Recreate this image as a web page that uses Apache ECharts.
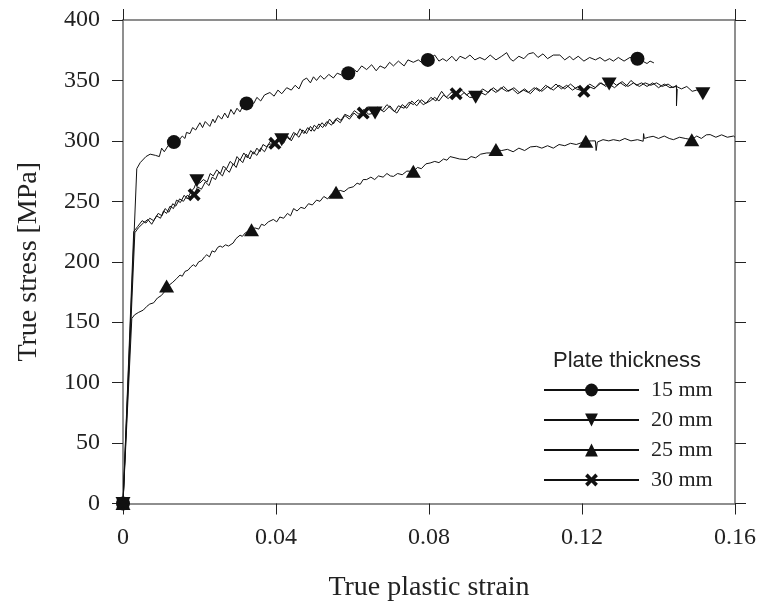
<!DOCTYPE html>
<html>
<head>
<meta charset="utf-8">
<script src="https://cdn.jsdelivr.net/npm/echarts@6/dist/echarts.min.js"></script>
<style>html,body{margin:0;padding:0;background:#fff}#c{width:760px;height:608px}</style>
</head>
<body>
<div id="c"></div>
<script>
// ---- data (true plastic strain, true stress MPa) ----
var seriesNames = ['15 mm', '20 mm', '25 mm', '30 mm'];
var xTicks = [0, 0.04, 0.08, 0.12, 0.16];
var yTicks = [0, 50, 100, 150, 200, 250, 300, 350, 400];

var curve15 = [[0,0],[0.0036,277],[0.0045,282],[0.006,287],[0.0071,289],[0.0085,288],[0.0095,287],[0.0101,294],[0.0108,291],[0.0118,296],[0.0133,299],[0.0145,300],[0.0155,304],[0.0162,302],[0.0166,307],[0.0175,306],[0.0182,311],[0.019,309],[0.0201,315],[0.0208,311],[0.0215,316],[0.0227,312],[0.0235,318],[0.024,315],[0.0249,321],[0.0258,318],[0.0266,323],[0.0274,319],[0.0282,326],[0.029,322],[0.0298,327],[0.0306,324],[0.0315,330],[0.0323,331],[0.0333,333],[0.0342,331],[0.035,336],[0.036,333],[0.037,338],[0.0384,340],[0.0395,337],[0.0405,342],[0.0415,339],[0.0428,344],[0.044,342],[0.045,346],[0.046,343],[0.047,350],[0.048,352],[0.049,348],[0.0498,353],[0.0506,350],[0.0516,354],[0.0526,351],[0.0538,355],[0.055,352],[0.056,356],[0.0575,354],[0.0589,356],[0.06,360],[0.0612,357],[0.0624,362],[0.0637,359],[0.065,363],[0.0662,358],[0.0672,362],[0.0685,360],[0.0697,365],[0.0707,362],[0.072,366],[0.0735,362],[0.0745,367],[0.0759,365],[0.0772,367],[0.0785,364],[0.0797,367],[0.0806,369],[0.0815,371],[0.0826,366],[0.0836,368],[0.0846,366],[0.086,370],[0.0871,366],[0.0881,370],[0.0895,368],[0.0907,371],[0.092,367],[0.0933,369],[0.0946,367],[0.096,371],[0.0975,367],[0.099,370],[0.1003,373],[0.1012,368],[0.102,366],[0.1035,370],[0.1048,368],[0.106,372],[0.1073,373],[0.1085,369],[0.1098,372],[0.111,368],[0.1125,371],[0.1142,371],[0.1155,367],[0.1168,370],[0.1177,367],[0.119,370],[0.1205,366],[0.122,369],[0.1235,367],[0.1247,369],[0.126,366],[0.1272,368],[0.1282,366],[0.1295,369],[0.131,366],[0.1325,369],[0.1345,368],[0.1358,366],[0.137,364],[0.1378,366],[0.1388,364.5]];

var curve20 = [[0,0],[0.0031,224],[0.004,228],[0.0053,232],[0.0065,235],[0.0075,231],[0.0088,238],[0.0098,236],[0.0106,242],[0.0114,240],[0.0123,246],[0.0132,244],[0.014,251],[0.015,249],[0.016,255],[0.0168,252],[0.0178,258],[0.0186,261],[0.0193,267],[0.0201,265],[0.021,268],[0.022,266],[0.0228,273],[0.0236,271],[0.0245,276],[0.0255,273],[0.0262,279],[0.0271,277],[0.028,283],[0.029,280],[0.0298,287],[0.0306,284],[0.0316,290],[0.0325,286],[0.0334,292],[0.0342,289],[0.035,294],[0.0358,291],[0.0366,297],[0.0376,295],[0.0386,300],[0.0395,297],[0.0405,302],[0.0415,301],[0.0425,304],[0.0436,301],[0.0446,307],[0.0455,305],[0.0463,310],[0.0473,306],[0.0483,311],[0.0492,308],[0.05,313],[0.051,310],[0.052,315],[0.053,312],[0.054,318],[0.055,314],[0.056,319],[0.057,317],[0.058,322],[0.0593,320],[0.0605,325],[0.0617,322],[0.063,326],[0.0642,322],[0.0659,323],[0.067,327],[0.0682,324],[0.0698,329],[0.071,324],[0.072,329],[0.0735,327],[0.0748,332],[0.0759,330],[0.0772,334],[0.0785,330],[0.0803,333],[0.0815,336],[0.0826,333],[0.0838,338],[0.085,335],[0.0864,339],[0.0878,336],[0.0892,340],[0.0906,336],[0.0922,336],[0.0935,340],[0.0948,338],[0.0962,343],[0.0975,340],[0.0988,344],[0.1003,341],[0.1018,343],[0.1032,339],[0.1047,342],[0.106,340],[0.1075,344],[0.109,341],[0.1105,346],[0.1118,343],[0.1132,347],[0.1146,343],[0.116,346],[0.1175,342],[0.119,345],[0.1205,342],[0.122,347],[0.1235,344],[0.125,348],[0.1262,345],[0.1271,347],[0.1285,344],[0.13,348],[0.1315,345],[0.1328,350],[0.1342,346],[0.1356,348],[0.137,345],[0.1385,348],[0.14,344],[0.1415,347],[0.143,344],[0.1447,345],[0.146,343],[0.1474,345],[0.1488,341],[0.15,342],[0.151,340]];

var curve25 = [[0,0],[0.0023,153],[0.003,156],[0.004,158],[0.0053,160],[0.0062,163],[0.007,165],[0.008,166],[0.009,170],[0.01,172],[0.0108,175],[0.0114,179.6],[0.0122,181],[0.013,183],[0.014,186],[0.0149,189],[0.0155,188],[0.0162,192],[0.017,193],[0.0178,196],[0.0184,197.5],[0.019,196],[0.0198,200],[0.0206,201],[0.0213,204],[0.0219,205.8],[0.0226,204],[0.0233,209],[0.024,208],[0.0248,212],[0.0254,213],[0.026,212],[0.0268,214],[0.0276,213],[0.0288,215.5],[0.0295,219],[0.0306,222],[0.0312,221],[0.032,224],[0.0336,226.5],[0.0345,228],[0.0355,227],[0.0362,231],[0.037,230],[0.038,233],[0.0393,235],[0.0402,233],[0.041,237],[0.042,236],[0.043,240],[0.0438,238],[0.0446,244],[0.0455,242],[0.0465,245],[0.0475,244],[0.0485,248],[0.0495,247],[0.0506,251],[0.0515,250],[0.0525,254],[0.0535,252],[0.0545,256],[0.0557,257.4],[0.0568,259],[0.0578,258],[0.059,261],[0.0602,262],[0.0612,265],[0.062,264],[0.0628,268],[0.0637,268],[0.0648,270],[0.0658,268],[0.0668,271],[0.068,270],[0.069,273],[0.0699,271],[0.0707,270.6],[0.0718,273],[0.073,272],[0.0742,275],[0.0759,274.8],[0.077,278],[0.078,277],[0.0792,281],[0.0803,281.7],[0.0815,283],[0.0826,282],[0.0838,285],[0.0847,284],[0.0855,287],[0.0868,286],[0.088,285],[0.0899,284.5],[0.091,287],[0.0922,286],[0.0935,289],[0.0951,290],[0.0962,290],[0.0975,292.8],[0.099,292],[0.1005,293],[0.102,291],[0.1035,294],[0.105,292],[0.1065,295],[0.1081,295.5],[0.1095,294],[0.111,296],[0.1125,294],[0.114,297],[0.1155,296],[0.117,298],[0.1185,297],[0.121,299.7],[0.1225,300],[0.1235,300],[0.1237,292],[0.124,299],[0.1255,301],[0.127,300],[0.1282,301],[0.1298,300],[0.1312,302],[0.1328,300],[0.1345,301],[0.136,299.7],[0.1361,306],[0.1363,302],[0.1374,303],[0.1386,303.8],[0.14,302],[0.1415,304],[0.1428,302],[0.1439,301],[0.1455,303],[0.147,302],[0.1487,301],[0.15,304],[0.1512,302],[0.1525,305],[0.1535,305.2],[0.155,303],[0.1565,305],[0.158,303],[0.1596,304],[0.16,303]];

var curve30 = [[0,0],[0.0028,225],[0.0038,229],[0.005,234],[0.006,232],[0.007,236],[0.008,234],[0.0092,240],[0.0102,238],[0.011,244],[0.012,241],[0.013,248],[0.0138,246],[0.0148,252],[0.0158,250],[0.0168,255],[0.0178,253],[0.0186,255.5],[0.0195,262],[0.0205,260],[0.0215,266],[0.0225,263],[0.0233,270],[0.0242,268],[0.025,274],[0.026,271],[0.0268,277],[0.0278,274],[0.0288,281],[0.0296,278],[0.0304,285],[0.0313,282],[0.0322,289],[0.0332,285],[0.034,291],[0.035,288],[0.036,294],[0.037,291],[0.038,297],[0.0397,298],[0.041,301],[0.042,298],[0.043,304],[0.044,300],[0.045,306],[0.046,303],[0.047,309],[0.048,306],[0.049,312],[0.05,308],[0.0512,314],[0.0522,311],[0.0533,316],[0.0545,313],[0.0556,318],[0.0568,315],[0.058,321],[0.0592,318],[0.0604,323],[0.0615,320],[0.0628,323],[0.064,327],[0.0652,323],[0.0665,328],[0.0678,325],[0.069,330],[0.0703,326],[0.0716,323],[0.073,330],[0.0742,327],[0.0755,333],[0.0768,329],[0.078,334],[0.0792,331],[0.0805,336],[0.0818,333],[0.0833,341],[0.0845,336],[0.0858,340],[0.0871,339],[0.0885,342],[0.0898,338],[0.0912,341],[0.0926,338],[0.094,343],[0.0955,340],[0.0968,344],[0.098,341],[0.0995,345],[0.1008,341],[0.1022,344],[0.1036,340],[0.105,343],[0.1065,339],[0.108,344],[0.1095,341],[0.111,345],[0.1125,342],[0.114,346],[0.1155,343],[0.117,347],[0.1185,343],[0.1205,341],[0.1218,345],[0.1232,343],[0.1246,348],[0.126,346],[0.1275,350],[0.129,346],[0.1305,349],[0.132,345],[0.1335,348],[0.135,345],[0.1365,348],[0.138,346],[0.1395,348],[0.141,345],[0.1425,347],[0.1438,344],[0.1447,346],[0.1447,329],[0.1449,343]];

var marks15 = [[0,0],[0.0133,299],[0.0323,331],[0.0589,356],[0.0797,367],[0.1345,368]];
var marks20 = [[0,0],[0.0193,267],[0.0415,301],[0.0659,323],[0.0922,336],[0.1271,347],[0.1516,339]];
var marks25 = [[0,0],[0.0114,180],[0.0336,226.5],[0.0557,257.4],[0.0759,274.8],[0.0975,292.8],[0.121,299.7],[0.1487,301]];
var marks30 = [[0,0],[0.0186,255.5],[0.0397,298],[0.0628,323],[0.0871,339],[0.1205,341]];

// ---- chart ----
var SERIF = '"Liberation Serif", "DejaVu Serif", serif';
var SANS = '"Liberation Sans", Arial, sans-serif';
var INK = '#111111';
var symDown = 'path://M0,0 L12,0 L6,10 Z';
var symX = 'path://M0,2 L2,0 L5,3 L8,0 L10,2 L7,5 L10,8 L8,10 L5,7 L2,10 L0,8 L3,5 Z';
var symbols = ['circle', symDown, 'triangle', symX];
var curves = [curve15, curve20, curve25, curve30];
var marks = [marks15, marks20, marks25, marks30];
var markSizes = [14, [15, 13], [15, 13], 13];

var series = [];
curves.forEach(function (c, i) {
  series.push({
    name: seriesNames[i], type: 'line', data: c,
    symbol: symbols[i], symbolSize: markSizes[i], showSymbol: false,
    lineStyle: { color: INK, width: 1 }, itemStyle: { color: INK, opacity: 1 },
    z: 2, silent: true
  });
});
marks.forEach(function (m, i) {
  series.push({
    name: seriesNames[i] + ' marks', type: 'scatter', data: m,
    symbol: symbols[i], symbolSize: markSizes[i],
    itemStyle: { color: INK, opacity: 1 }, z: 3, silent: true
  });
});

var axisLineStyle = { color: '#6a6a6a', width: 1.5 };
var tickStyle = { show: true, inside: false, length: 11, lineStyle: { color: '#222', width: 1 } };

var chart = echarts.init(document.getElementById('c'), null, { renderer: 'canvas' });
chart.setOption({
  animation: false,
  backgroundColor: '#fff',
  grid: { left: 123, right: 25, top: 20, bottom: 104.5, containLabel: false },
  xAxis: [{
    type: 'value', position: 'bottom', min: xTicks[0], max: xTicks[xTicks.length - 1], interval: 0.04,
    axisLine: { show: true, onZero: false, lineStyle: axisLineStyle },
    axisTick: tickStyle, splitLine: { show: false },
    axisLabel: { margin: 22, color: '#222', fontFamily: SERIF, fontSize: 24,
      formatter: function (v) { return v === 0 ? '0' : String(+v.toFixed(2)); } },
    name: 'True plastic strain', nameLocation: 'middle', nameGap: 70,
    nameTextStyle: { fontFamily: SERIF, fontSize: 28, color: '#222' }
  }, {
    type: 'value', position: 'top', min: xTicks[0], max: xTicks[xTicks.length - 1], interval: 0.04,
    axisLine: { show: true, onZero: false, lineStyle: axisLineStyle },
    axisTick: tickStyle, axisLabel: { show: false }, splitLine: { show: false }
  }],
  yAxis: [{
    type: 'value', position: 'left', min: yTicks[0], max: yTicks[yTicks.length - 1], interval: 50,
    axisLine: { show: true, onZero: false, lineStyle: axisLineStyle },
    axisTick: tickStyle, splitLine: { show: false },
    axisLabel: { margin: 23, color: '#222', fontFamily: SERIF, fontSize: 24 },
    name: 'True stress [MPa]', nameLocation: 'middle', nameGap: 80,
    nameTextStyle: { fontFamily: SERIF, fontSize: 28, color: '#222' }
  }, {
    type: 'value', position: 'right', min: yTicks[0], max: yTicks[yTicks.length - 1], interval: 50,
    axisLine: { show: true, onZero: false, lineStyle: axisLineStyle },
    axisTick: tickStyle, axisLabel: { show: false }, splitLine: { show: false }
  }],
  legend: {
    data: seriesNames, orient: 'vertical', left: 543, top: 379,
    itemWidth: 95, itemHeight: 16, itemGap: 8, padding: 0,
    selectedMode: false,
    textStyle: { fontFamily: SERIF, fontSize: 22, color: '#222', lineHeight: 22, padding: [0, 0, 0, 7] }
  },
  graphic: [{
    type: 'text', left: 553, top: 350,
    style: { text: 'Plate thickness', fontFamily: SANS, fontSize: 22, fill: '#222' }
  }],
  series: series
});
</script>
</body>
</html>
